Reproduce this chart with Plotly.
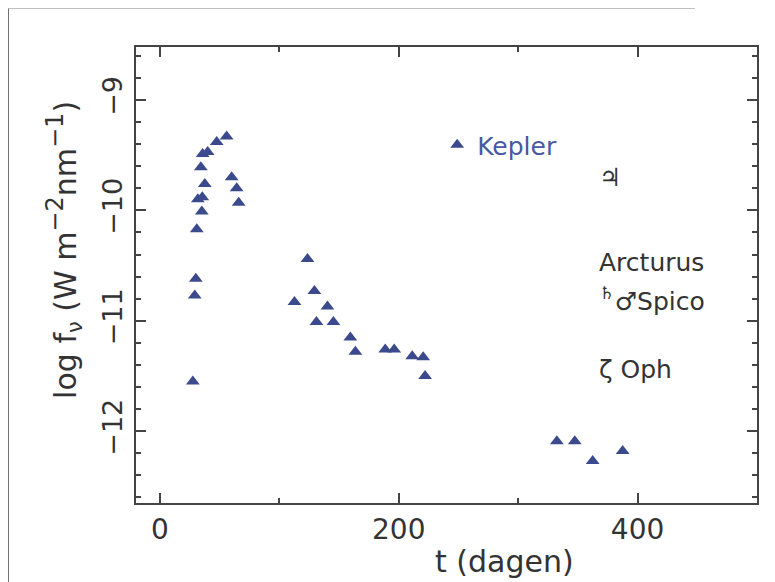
import plotly.graph_objects as go

# Kepler supernova light curve (t in days, log f_nu)
t_days = [27.6, 30.1, 29.2, 30.9, 35.1, 31.8, 35.5, 37.6, 34.3, 35.8, 40.0, 47.6, 55.9,
          60.1, 64.3, 66.0, 112.7, 123.6, 129.4, 140.3, 131.1, 145.3, 159.5, 163.7,
          188.7, 196.2, 211.3, 220.5, 222.1, 332.4, 347.4, 362.4, 387.5]
log_f = [-11.55, -10.62, -10.77, -10.17, -10.01, -9.90, -9.88, -9.76, -9.61, -9.49, -9.47,
         -9.38, -9.33, -9.70, -9.80, -9.93, -10.83, -10.44, -10.73, -10.87, -11.01, -11.01,
         -11.15, -11.28, -11.26, -11.26, -11.32, -11.33, -11.50, -12.09, -12.09, -12.27, -12.18]

# Reference objects (label, t position, log f level)
ref_labels = ["♃", "Arcturus", "<sup>♄</sup>♂Spico", "ζ Oph"]
ref_x = [366.0, 366.0, 366.0, 366.0]
ref_y = [-9.70, -10.47, -10.81, -11.44]

x_ticks = [0, 200, 400]
y_ticks = [-12, -11, -10, -9]

x_title = "t (dagen)"
y_title = ("log f<sub>ν</sub> (W m<sup><span style='font-size:24px'>−2</span></sup>"
           "nm<sup><span style='font-size:24px'>−1</span></sup>)")

marker_color = "#3b4a8c"
ink = "#333333"
font_family = "DejaVu Sans, sans-serif"

fig = go.Figure()
fig.add_trace(go.Scatter(
    x=t_days, y=log_f, mode="markers", name="Kepler",
    marker=dict(symbol="triangle-up", size=12, color=marker_color),
))

for lab, xx, yy in zip(ref_labels, ref_x, ref_y):
    fig.add_annotation(x=xx, y=yy, text=lab, showarrow=False, xanchor="left",
                       yanchor="middle", font=dict(size=25, color=ink, family=font_family))

# axis titles (off-centre in the reference)
fig.add_annotation(xref="paper", yref="paper", x=0.5926, y=-0.129, text=x_title,
                   showarrow=False, xanchor="center", yanchor="middle",
                   font=dict(size=30, color=ink, family=font_family))
fig.add_annotation(xref="paper", yref="paper", x=-0.116, y=0.555, text=y_title,
                   showarrow=False, xanchor="center", yanchor="middle", textangle=-90,
                   font=dict(size=30, color=ink, family=font_family))

fig.update_layout(
    width=775, height=582,
    margin=dict(l=128, r=26, t=39, b=87),
    paper_bgcolor="white", plot_bgcolor="white",
    font=dict(family=font_family, color=ink),
    showlegend=True,
    legend=dict(x=0.485, y=0.785, xanchor="left", yanchor="middle",
                bgcolor="rgba(0,0,0,0)", font=dict(size=25, color="#4a58a0", family=font_family),
                itemwidth=30),
    xaxis=dict(
        range=[-20, 500], tickvals=x_ticks, ticks="inside", ticklen=10, tickwidth=1.5,
        tickcolor="#444", showline=True, linecolor="#444", linewidth=2, mirror="ticks",
        showgrid=False, zeroline=False, tickfont=dict(size=28, color=ink), automargin=False,
        minor=dict(dtick=100, tick0=0, ticks="inside", ticklen=5, tickcolor="#444"),
    ),
    yaxis=dict(
        range=[-12.65, -8.52], tickvals=y_ticks, ticks="inside", ticklen=10, tickwidth=1.5,
        tickcolor="#444", showline=True, linecolor="#444", linewidth=2, mirror="ticks",
        showgrid=False, zeroline=False, tickangle=-90, tickfont=dict(size=27, color=ink),
        automargin=False, ticklabelstandoff=1,
        minor=dict(dtick=0.2, tick0=-13, ticks="inside", ticklen=5, tickcolor="#444"),
    ),
    shapes=[
        dict(type="line", xref="paper", yref="paper", x0=-0.206, x1=-0.206, y0=-0.3, y1=1.085,
             line=dict(color="#555", width=1.5)),
        dict(type="line", xref="paper", yref="paper", x0=-0.206, x1=0.9, y0=1.085, y1=1.085,
             line=dict(color="#aaa", width=1)),
    ],
)

fig.write_html("out.html")
